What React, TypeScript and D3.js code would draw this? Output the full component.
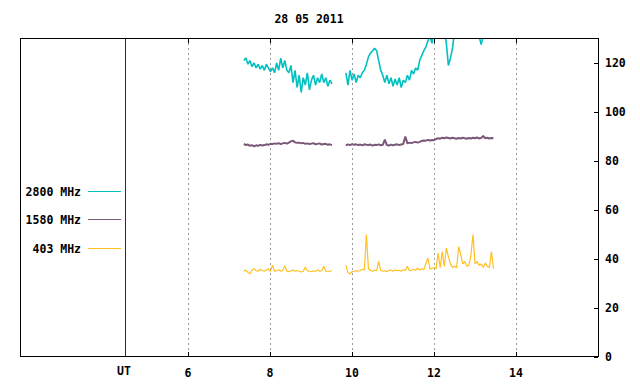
import * as d3 from 'd3';

// radio flux, sampled every 0.05 h, two observing runs
const runStarts = [7.36, 9.85];
const step = 0.05;

const flux2800a = [121, 122, 119.5, 121, 118.5, 120, 118, 119.5, 117.5, 119, 117, 119.5, 118, 116.5, 118, 116, 120, 117, 122, 118, 121, 117, 116, 119, 112, 117, 110, 115, 108, 114, 111, 116, 109, 113, 115, 111, 114, 112, 115.5, 112, 114, 110.5, 113, 111.5];
const flux2800b = [116, 111, 117, 113, 115.5, 112, 115, 114, 116, 117, 119.5, 122.5, 124, 125, 126, 125, 121, 117, 115, 112, 115, 111.5, 114, 110.5, 113.5, 111, 114, 110, 113, 112, 115, 113, 117, 115.5, 118, 117, 121, 123, 125, 126.5, 129, 131, 128, 134, 133, 136, 135, 137, 134, 128, 119, 122, 126, 133, 136, 138, 137, 139, 138, 140, 138, 139, 137, 136, 134, 131, 127.5, 131, 134, 135, 136, 137, 136];

const flux1580a = [87, 86.5, 86.7, 86.2, 86.5, 86, 86.4, 86.2, 86.6, 86.3, 86.5, 86.8, 86.6, 87, 86.9, 87.2, 87, 87.3, 86.9, 87.2, 87.4, 87.1, 87.5, 88, 88.3, 87.6, 87.4, 87.5, 87.2, 87.4, 87, 87.2, 86.9, 87.1, 87.3, 86.8, 87, 87.2, 86.7, 86.9, 87, 86.6, 86.8, 86.5];
const flux1580b = [86.4, 86.8, 86.5, 86.9, 86.6, 86.8, 86.5, 86.7, 86.4, 86.8, 86.6, 86.5, 86.7, 86.3, 86.6, 86.5, 86.8, 86.4, 86.6, 88.7, 86.5, 86.3, 86.7, 86.4, 86.6, 86.8, 86.5, 86.7, 86.9, 90, 87.2, 87.5, 87.3, 87.6, 87.8, 87.5, 87.8, 88.2, 88.4, 88.3, 88.6, 88.4, 88.6, 88.5, 89, 89.3, 89.1, 89.5, 89.3, 89.6, 89.4, 89.2, 89.5, 89.3, 89.1, 89.4, 89.2, 89.5, 89.3, 89.1, 89.4, 89.2, 89.5, 89.3, 89.6, 89.2, 89.4, 90.2, 89.3, 89.5, 89.2, 89.4, 89.3];

const flux403a = [35, 35.5, 34.5, 34, 35.5, 36, 35.2, 35, 35.8, 35.3, 35, 35.5, 36, 35, 37.5, 35, 35.2, 35.6, 35, 35.3, 37.3, 35, 34.8, 35.2, 35.5, 35, 35.3, 35, 34.7, 35, 36.7, 35.2, 35, 34.8, 35.2, 35, 35.5, 35, 35.2, 37, 35, 34.8, 35, 35.2];
const flux403b = [37.5, 34.5, 34, 34.8, 35, 35.2, 35, 35.3, 35.8, 35.5, 50, 36, 35.3, 35, 35.4, 35.2, 39, 35.3, 35, 35.2, 34.8, 35.3, 35.5, 35, 35.6, 35.2, 35.4, 35, 35.6, 35.3, 37, 35.2, 35.4, 35.8, 35.4, 36.3, 35.5, 36, 35.6, 38, 40.4, 36, 36.2, 36.5, 36, 42.4, 36.5, 43, 37, 44.5, 41, 38, 36.5, 37, 36.4, 45, 42, 38, 39, 37, 37.5, 41.5, 50, 38, 39, 37.5, 38, 36.5, 38.4, 37, 36.5, 43, 36];

const xTicks = [6, 8, 10, 12, 14];
const yTicks = [0, 20, 40, 60, 80, 100, 120];

const series = [
  { label: '2800 MHz', color: '#00c0c0', width: 1.6, runs: [flux2800a, flux2800b] },
  { label: '1580 MHz', color: '#7a5878', width: 2, runs: [flux1580a, flux1580b] },
  { label: '403 MHz', color: '#ffc020', width: 1.2, runs: [flux403a, flux403b] },
];

const font = '"DejaVu Sans Mono", monospace';

export default function App() {
  const left = 20, right = 598, top = 38, bottom = 357;
  const x = d3.scaleLinear().domain([1.9, 16]).range([left, right]);
  const y = d3.scaleLinear().domain([0, 130]).range([bottom, top + 0.5]);
  const utHour = 4.45;

  const pathFor = (vals: number[], start: number) =>
    d3
      .line<number>()
      .x((_, i) => x(start + i * step))
      .y((d) => y(d))(vals) ?? '';

  const px = (v: number) => Math.round(v) + 0.5;

  return (
    <svg width={640} height={384} style={{ position: 'absolute', left: 0, top: 0, background: '#fff' }}>
      <defs>
        <clipPath id="plot">
          <rect x={left} y={top} width={right - left} height={bottom - top} />
        </clipPath>
      </defs>
      <text x={309} y={23} textAnchor="middle" fontFamily={font} fontWeight="bold" fontSize={11.5}>
        28 05 2011
      </text>

      {/* grid */}
      {xTicks.map((t) => (
        <line key={'g' + t} x1={px(x(t))} x2={px(x(t))} y1={top} y2={bottom}
          stroke="#999" strokeDasharray="2,3" />
      ))}

      {/* data */}
      <g clipPath="url(#plot)">
        {series.map((s) =>
          s.runs.map((vals, r) => (
            <path key={s.label + r} d={pathFor(vals, runStarts[r])} fill="none" stroke={s.color}
              strokeWidth={s.width} strokeLinejoin="bevel" />
          ))
        )}
      </g>

      {/* UT marker */}
      <line x1={px(x(utHour))} x2={px(x(utHour))} y1={top} y2={bottom} stroke="#8b0000" />

      {/* frame */}
      <rect x={left + 0.5} y={top + 0.5} width={right - left} height={bottom - top - 1} fill="none" stroke="#000" />

      {/* top / bottom ticks */}
      {xTicks.map((t) => (
        <g key={'t' + t}>
          <line x1={px(x(t))} x2={px(x(t))} y1={top} y2={top + 5} stroke="#000" />
          <line x1={px(x(t))} x2={px(x(t))} y1={bottom - 5} y2={bottom} stroke="#000" />
          <text x={x(t)} y={377} textAnchor="middle" fontFamily={font} fontWeight="bold" fontSize={11.5}>
            {t}
          </text>
        </g>
      ))}
      <text x={124} y={375} textAnchor="middle" fontFamily={font} fontWeight="bold" fontSize={11.5}>
        UT
      </text>

      {/* right axis */}
      {yTicks.map((t) => (
        <g key={'y' + t}>
          <line x1={right - 4} x2={right} y1={px(y(t))} y2={px(y(t))} stroke="#000" />
          <text x={605} y={y(t) + 4} fontFamily={font} fontWeight="bold" fontSize={11.5}>
            {t}
          </text>
        </g>
      ))}

      {/* legend */}
      {series.map((s, i) => {
        const ly = [191.5, 219.5, 248.5][i];
        return (
          <g key={'l' + s.label}>
            <text x={81} y={ly + 4} textAnchor="end" fontFamily={font} fontWeight="bold" fontSize={11.5}>
              {s.label}
            </text>
            <line x1={88} x2={121} y1={ly} y2={ly} stroke={s.color} />
          </g>
        );
      })}
    </svg>
  );
}
